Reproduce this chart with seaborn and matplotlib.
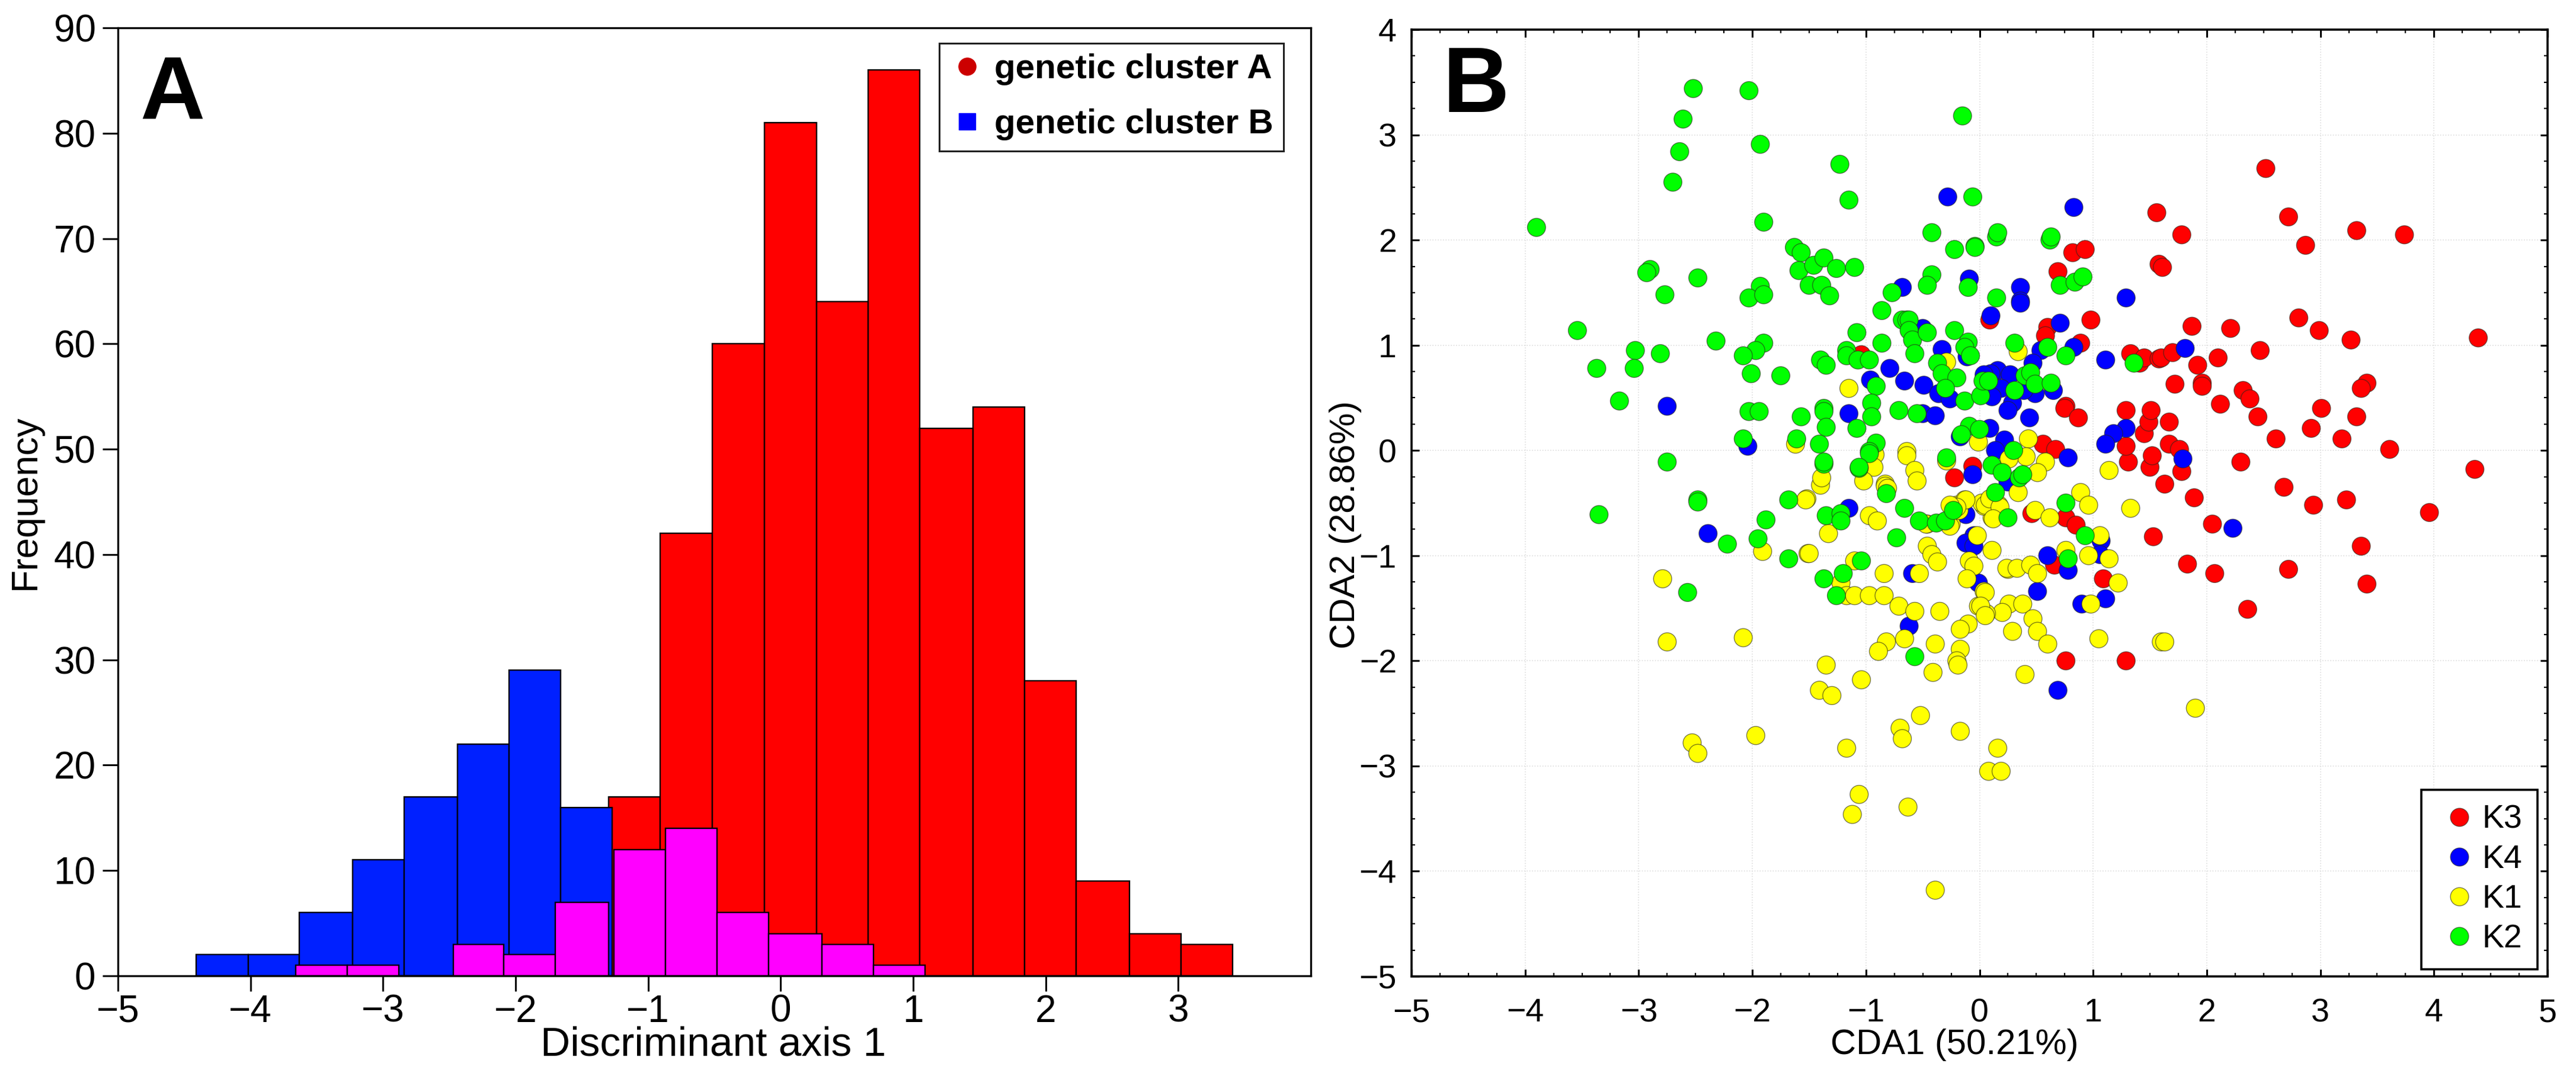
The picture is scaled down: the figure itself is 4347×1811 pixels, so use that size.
import pandas as pd
import seaborn as sns
import matplotlib.pyplot as plt
from matplotlib.lines import Line2D

# panel A, histogram counts and bin edges
red_edges = [-1.30, -0.907, -0.514, -0.12, 0.27, 0.66, 1.05, 1.45, 1.84, 2.23, 2.63, 3.02, 3.41]
red_counts = [17, 42, 60, 81, 64, 86, 52, 54, 28, 9, 4, 3]
blue_edges = [-4.41, -4.015, -3.63, -3.23, -2.84, -2.44, -2.05, -1.66, -1.27]
blue_counts = [2, 2, 6, 11, 17, 22, 29, 16]
pink_edges = [-3.66, -3.27, -2.88, -2.47, -2.09, -1.70, -1.30, -1.26, -0.87, -0.48, -0.09, 0.31, 0.70, 1.09]
pink_counts = [1, 1, 0, 3, 2, 7, 0, 12, 14, 6, 4, 3, 1]

# panel B, scores per cluster
k3_x = [2.52, 2.72, 3.32, 3.74, 2.87, 1.56, 1.78, 1.58, 1.61, 0.82, 0.93, 0.69, 0.09, 0.98, 0.60, 0.58, 0.89, -1.04,
        2.81, 2.99, 3.27, 4.39, 1.87, 2.21, 2.47, 2.10, 1.92, 1.72, 1.96, 1.96, 2.32, 2.38, 2.12, 2.45, 3.41, 3.36,
        3.01, 3.32, 2.92, 2.61, 3.19, 3.61, 2.30, 4.36, 2.68, 2.94, 3.23, 3.96, 2.05, 1.89, 1.63, 1.31, 1.50, 1.52,
        1.67, 1.76, 1.78, 1.29, 1.45, 1.49, 1.51, 1.29, 1.67, 1.33, 1.41, 1.45, 1.58, 1.60, 1.70, 0.76, 0.75, 0.87,
        0.56, 0.67, -0.06, -0.22, 0.76, 0.85, 0.46, 0.66, 1.09, 0.76, 1.29, 1.53, 1.83, 2.07, 2.72, 2.36, 3.36, 3.41]
k3_y = [2.68, 2.22, 2.09, 2.05, 1.95, 2.26, 2.05, 1.77, 1.74, 1.88, 1.91, 1.70, 1.24, 1.24, 1.17, 1.09, 1.02, 0.91,
        1.26, 1.14, 1.05, 1.07, 1.18, 1.16, 0.95, 0.88, 0.81, 0.63, 0.64, 0.61, 0.57, 0.49, 0.44, 0.32, 0.64, 0.59,
        0.40, 0.32, 0.21, 0.11, 0.11, 0.01, -0.11, -0.18, -0.35, -0.52, -0.47, -0.59, -0.70, -0.45, -0.32, -0.11, -0.16, -0.05,
        0.06, 0.01, -0.20, 0.04, 0.16, 0.27, 0.38, 0.38, 0.27, 0.92, 0.83, 0.88, 0.87, 0.88, 0.93, 0.42, 0.40, 0.31,
        0.06, 0.01, -0.15, -0.26, -0.64, -0.71, -0.60, -1.09, -1.22, -2.00, -2.00, -0.82, -1.08, -1.17, -1.13, -1.51, -0.91, -1.27]

k4_x = [-2.75, -2.04, -0.28, 0.83, -2.39, -0.68, -0.09, -0.50, -0.33, -0.11, -0.79, -0.96, -0.66, -0.49, -0.36, -0.26,
        -1.15, -0.50, -0.39, -0.17, 0.36, 0.36, 0.36, 0.10, 0.71, 1.29, 0.83, 0.54, 0.47, 1.11, 0.16, 0.27, 0.10, 0.19,
        0.11, 0.29, 0.25, 0.49, 0.65, 0.39, 0.44, 0.09, 0.22, 0.14, 1.29, 1.18, 1.11, 1.79, 0.78, 0.04, 1.81, 0.25, 0.60,
        0.78, 1.07, 1.06, 0.51, 0.90, 1.11, 2.23, 0.69, -1.15, -0.12, -0.05, -0.12, -0.05, -0.59, -0.01, -0.62, -0.06]
k4_y = [0.42, 0.04, 2.41, 2.31, -0.79, 1.55, 1.63, 1.16, 0.96, 0.89, 0.78, 0.67, 0.66, 0.62, 0.54, 0.49,
        0.35, 0.35, 0.33, 0.13, 1.55, 1.42, 1.40, 1.28, 1.21, 1.45, 0.98, 0.95, 0.83, 0.86, 0.76, 0.72, 0.73, 0.59,
        0.51, 0.45, 0.38, 0.54, 0.57, 0.57, 0.31, 0.21, 0.10, 0.00, 0.21, 0.16, 0.06, -0.08, -0.07, 0.72, 0.97, -0.30, -1.00,
        -1.14, -0.86, -0.99, -1.34, -1.46, -1.41, -0.74, -2.28, -0.55, -0.61, -0.81, -0.88, -0.91, -1.17, -1.26, -1.67, -0.23]

k1_x = [-1.15, -0.29, 0.34, -0.01, -0.64, 0.43, 0.41, 0.26, 0.58, 0.51, 0.34, 1.14, 0.89, 0.96, 0.49, 0.62, 1.33, 0.11,
        0.17, 0.07, 0.04, 0.11, 1.06, 0.76, 0.96, 1.14, 0.25, 0.24, 0.33, 0.45, 0.51, 1.22, 0.98, 0.04, 0.26, 0.38, 0.20,
        0.06, 0.47, 0.51, 0.60, 0.29, 1.05, 1.60, -0.64, -0.57, -0.55, -0.92, -0.93, -1.02, -1.40, -1.52, -0.83, -0.83,
        -0.81, -0.97, -0.90, -1.33, -0.29, -0.46, -0.25, -0.23, -0.20, -0.13, -0.18, 0.02, -0.46, -0.42, -0.37, -1.51,
        -1.10, -0.84, -0.53, -0.09, -0.05, -0.11, -0.02, -1.22, -1.17, -1.10, -0.97, -0.84, -0.71, -0.57, -0.35, -0.01,
        -0.10, -0.17, -0.82, -0.66, -0.89, -0.39, -0.17, -0.20, -2.79, -2.75, -2.08, -1.97, -2.53, -2.48, -1.35, -1.04,
        -1.41, -1.30, -0.52, -0.70, -0.68, -1.17, -1.06, -1.12, -0.63, -0.39, -0.41, -1.91, -1.50, -1.53, -1.39, -1.62,
        -0.17, 0.16, 0.08, 0.19, 0.40, 1.90, 1.63, -0.19, 0.05, 0.09, 0.18, 0.12, 0.05, 0.01, 0.05, -0.12, -0.20, -0.26,
        -0.47, -0.26]
k1_y = [0.59, 0.84, 0.94, 0.08, -0.01, 0.11, -0.06, -0.08, -0.11, -0.21, -0.40, -0.19, -0.40, -0.52, -0.57, -0.64, -0.55, -0.64,
        -0.52, -0.50, -0.53, -0.95, -0.81, -0.95, -1.00, -1.03, -1.13, -1.12, -1.12, -1.09, -1.17, -1.26, -1.46, -1.34, -1.46, -1.46, -1.54,
        -1.55, -1.60, -1.72, -1.84, -1.72, -1.79, -1.82, -0.05, -0.19, -0.29, -0.04, -0.16, -0.29, -0.33, -0.46, -0.32, -0.34,
        -0.36, -0.62, -0.67, -0.79, -0.10, -0.70, -0.70, -0.53, -0.52, -0.47, -0.57, -0.50, -0.91, -0.99, -1.06, -0.98,
        -1.05, -1.17, -1.17, -1.05, -1.10, -1.22, -0.81, -1.26, -1.38, -1.38, -1.38, -1.38, -1.48, -1.53, -1.53, -1.48,
        -1.65, -1.70, -1.82, -1.79, -1.91, -1.84, -1.89, -2.00, -1.22, -1.82, -1.78, -2.71, -2.78, -2.88, -2.04, -2.18,
        -2.28, -2.33, -2.52, -2.64, -2.74, -2.83, -3.27, -3.46, -3.39, -4.18, -2.11, -0.96, -0.98, -0.47, -0.26, 0.06,
        -2.67, -2.83, -3.05, -3.05, -2.13, -2.45, -1.82, -2.04, -0.52, -0.46, -0.54, -0.65, -1.35, -1.48, -1.57, -0.47, -0.54, -0.52,
        -0.70, -0.72]

k2_x = [-3.90, -2.52, -2.03, -2.61, -1.93, -2.64, -2.70, -1.23, -1.15, -1.90, -1.63, -1.57, -1.59, -1.46, -1.37, -1.26,
        -1.10, -1.50, -1.39, -1.32, -2.90, -2.93, -2.48, -2.77, -1.93, -2.03, -1.90, -3.54, -2.32, -3.03, -2.81, -1.90,
        -1.97, -2.08, -3.37, -3.04, -2.01, -1.75, -3.17, -2.03, -1.94, -2.08, -2.75, -2.48, -2.48, -3.35, -1.88, -1.68,
        -1.57, -1.37, -1.37, -1.35, -1.61, -1.41, -1.37, -1.06, -0.42, -0.46, -0.77, -0.86, -0.22, -0.04, -0.10, -0.68,
        -0.64, -0.62, -0.62, -0.59, -0.57, -0.46, -1.08, -0.86, -0.22, -0.10, -0.13, -0.08, -1.17, -1.17, -1.07, -0.97,
        -1.40, -1.35, -0.37, -0.33, -0.20, -0.30, -0.91, -0.13, 0.01, 0.03, -0.95, -0.95, -0.71, -0.55, -1.08, -0.91,
        -0.97, -0.09, 0.00, -0.16, 0.15, 0.62, 0.15, 0.71, 0.84, 0.91, 0.31, 0.60, 0.76, 1.36, 0.40, 0.45, 0.49, 0.63,
        0.31, 0.08, -0.15, -0.06, -0.42, 0.16, 0.63, -0.04, -0.29, 0.11, 0.20, 0.35, 0.38, 0.30, 0.14, 0.25, 0.76,
        0.93, 0.78, -1.37, -0.97, -1.06, -0.82, -0.66, -1.35, -1.22, -1.22, -0.53, -0.38, -0.30, -0.23, -0.73, -1.04,
        -1.37, -1.20, -1.26, -0.57, -2.57, -2.22, -1.95, -1.68]
k2_y = [2.12, 3.44, 3.42, 3.15, 2.91, 2.84, 2.55, 2.72, 2.38, 2.17, 1.93, 1.88, 1.71, 1.76, 1.83, 1.73,
        1.74, 1.57, 1.57, 1.47, 1.72, 1.69, 1.64, 1.48, 1.56, 1.45, 1.48, 1.14, 1.04, 0.95, 0.92, 1.02,
        0.95, 0.90, 0.78, 0.78, 0.73, 0.71, 0.47, 0.37, 0.37, 0.11, -0.11, -0.47, -0.49, -0.61, -0.66, -0.47,
        0.32, 0.40, 0.37, 0.22, 0.11, 0.06, -0.13, -0.17, 1.67, 1.57, 1.50, 1.33, 1.91, 1.94, 1.55, 1.24,
        1.24, 1.24, 1.14, 1.05, 0.92, 1.12, 1.12, 1.02, 1.14, 1.03, 0.98, 0.90, 0.95, 0.90, 0.86, 0.86,
        0.86, 0.81, 0.83, 0.73, 0.69, 0.59, 0.61, 0.47, 0.52, 0.66, 0.45, 0.32, 0.38, 0.35, 0.21, 0.07,
        -0.01, 0.23, 0.20, 0.15, 2.03, 2.00, 1.45, 1.57, 1.60, 1.65, 1.02, 0.98, 0.90, 0.83, 0.71, 0.74, 0.63, 0.64,
        0.57, 0.66, 3.18, 2.41, 2.07, 2.07, 2.03, 1.93, -0.07, -0.14, -0.21, -0.26, -0.23, 0.00, -0.40, -0.64, -0.50,
        -0.81, -1.03, -0.11, -0.03, -0.16, -0.41, -0.55, -0.62, -0.60, -0.67, -0.67, -0.69, -0.67, -0.57, -0.83, -1.05,
        -1.22, -1.17, -1.38, -1.96, -1.35, -0.89, -0.84, -1.03]

hist_ticks_x = [-5, -4, -3, -2, -1, 0, 1, 2, 3]
hist_ticks_y = list(range(0, 100, 10))
cda_ticks_x = list(range(-5, 6))
cda_ticks_y = list(range(-5, 5))

W, H = 4347, 1811


def px_rect(left, top, right, bottom):
    return [left / W, 1 - bottom / H, (right - left) / W, (bottom - top) / H]


def draw_hist(ax, edges, counts, color):
    centers = [(a + b) / 2 for a, b in zip(edges[:-1], edges[1:])]
    sns.histplot(x=centers, weights=counts, bins=edges, color=color, alpha=1,
                 edgecolor='black', linewidth=1.7, ax=ax)


sns.set_style('ticks')
plt.rcParams['font.family'] = ['Liberation Sans', 'DejaVu Sans']
plt.rcParams['text.color'] = 'black'
plt.rcParams['axes.labelcolor'] = 'black'
plt.rcParams['xtick.labelcolor'] = 'black'
plt.rcParams['ytick.labelcolor'] = 'black'

fig = plt.figure(figsize=(W / 100, H / 100), dpi=100)
ax_a = fig.add_axes(px_rect(199, 47, 2212, 1647))
ax_b = fig.add_axes(px_rect(2382, 50, 4299, 1648))

# ---- panel A
draw_hist(ax_a, red_edges, red_counts, '#ff0000')
draw_hist(ax_a, blue_edges, blue_counts, '#0020ff')
draw_hist(ax_a, pink_edges, pink_counts, '#ff00ff')
ax_a.set_xlim(-5, 4)
ax_a.set_ylim(0, 90)
ax_a.set_xticks(hist_ticks_x)
ax_a.set_yticks(hist_ticks_y)
ax_a.tick_params(axis='both', direction='out', length=19, width=2.2, labelsize=46, color='black')
ax_a.tick_params(axis='x', pad=3)
ax_a.tick_params(axis='y', pad=8)
for s in ax_a.spines.values():
    s.set_linewidth(2.4)
    s.set_color('black')
ax_a.set_xlabel('Discriminant axis 1', fontsize=50, va='center')
ax_a.xaxis.set_label_coords(0.499, -0.0725)
ax_a.set_ylabel('Frequency', fontsize=45, va='center')
ax_a.yaxis.set_label_coords(-0.078, 0.50)

legend_a = [
    Line2D([], [], linestyle='none', marker='o', markersize=21, color='#cc0000', label='genetic cluster A'),
    Line2D([], [], linestyle='none', marker='s', markersize=20, color='#0000ff', label='genetic cluster B'),
]
leg = ax_a.legend(handles=legend_a, loc='upper left', bbox_to_anchor=(1585 / W, 1 - 73 / H),
                  bbox_transform=fig.transFigure, borderaxespad=0, frameon=True,
                  fancybox=False, framealpha=1, edgecolor='#222222', labelspacing=0.66,
                  handlelength=1.0, handletextpad=0.3, borderpad=0.3, prop={'weight': 'bold', 'size': 42})
leg.get_frame().set_linewidth(2.2)

# ---- panel B
cda = pd.concat([
    pd.DataFrame({'x': k3_x, 'y': k3_y, 'cluster': 'K3'}),
    pd.DataFrame({'x': k4_x, 'y': k4_y, 'cluster': 'K4'}),
    pd.DataFrame({'x': k1_x, 'y': k1_y, 'cluster': 'K1'}),
    pd.DataFrame({'x': k2_x, 'y': k2_y, 'cluster': 'K2'}),
])
palette = {'K3': '#ff0000', 'K4': '#0000ff', 'K1': '#ffff00', 'K2': '#00ff00'}
sns.scatterplot(data=cda, x='x', y='y', hue='cluster', palette=palette, s=490,
                edgecolor=(0.15, 0.15, 0.1, 0.6), linewidth=1, ax=ax_b, zorder=3)
ax_b.set_xlim(-5, 5)
ax_b.set_ylim(-5, 4)
ax_b.set_xticks(cda_ticks_x)
ax_b.set_yticks(cda_ticks_y)
ax_b.set_xticks([v / 4 for v in range(-20, 21)], minor=True)
ax_b.set_yticks([v / 4 for v in range(-20, 17)], minor=True)
ax_b.grid(True, which='major', color='#dddddd', linestyle=':', linewidth=1.2)
ax_b.tick_params(axis='both', which='major', direction='in', length=9, width=2.2, labelsize=40,
                 top=True, right=True, color='black')
ax_b.tick_params(axis='both', which='minor', direction='in', length=4.5, width=1.6,
                 top=True, right=True, color='black')
ax_b.tick_params(axis='x', which='major', pad=26)
ax_b.tick_params(axis='y', which='major', pad=18)
for s in ax_b.spines.values():
    s.set_linewidth(2.6)
    s.set_color('black')
ax_b.set_xlabel('CDA1 (50.21%)', fontsize=43, va='center')
ax_b.xaxis.set_label_coords(0.478, -0.072)
ax_b.set_ylabel('CDA2 (28.86%)', fontsize=43, va='center')
ax_b.yaxis.set_label_coords(-0.058, 0.477)

handles, labels = ax_b.get_legend_handles_labels()
leg_b = ax_b.legend(handles, labels, loc='upper left', bbox_to_anchor=(4086 / W, 1 - 1333 / H),
                    bbox_transform=fig.transFigure, borderaxespad=0, fontsize=40, frameon=True,
                    fancybox=False, framealpha=1, edgecolor='black', labelspacing=0.27,
                    handletextpad=0.0, borderpad=0.45, handlelength=1.4)
leg_b.get_frame().set_linewidth(2.6)

# panel letters
fig.text(236 / W, 1 - 199 / H, 'A', fontsize=109, fontweight='bold', ha='left', va='baseline')
fig.text(2435 / W, 1 - 189 / H, 'B', fontsize=112, fontweight='bold', ha='left', va='baseline')

fig.savefig('out.png', dpi=100)
